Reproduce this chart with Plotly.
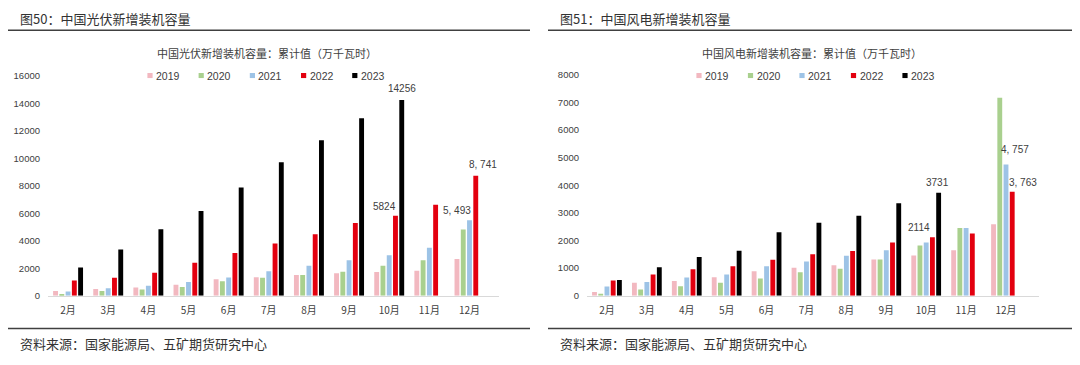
import plotly.graph_objects as go

months = ["2月", "3月", "4月", "5月", "6月", "7月", "8月", "9月", "10月", "11月", "12月"]
years = ["2019", "2020", "2021", "2022", "2023"]

# 中国光伏新增装机容量：累计值（万千瓦时）
pv_2019 = [350, 490, 590, 800, 1200, 1340, 1500, 1630, 1720, 1810, 2680]
pv_2020 = [100, 350, 450, 640, 1060, 1310, 1500, 1740, 2190, 2590, 4820]
pv_2021 = [300, 540, 730, 990, 1320, 1790, 2190, 2590, 2950, 3490, 5493]
pv_2022 = [1100, 1300, 1670, 2400, 3110, 3800, 4470, 5300, 5824, 6620, 8741]
pv_2023 = [2060, 3370, 4850, 6170, 7890, 9730, 11330, 12930, 14256, None, None]

# 中国风电新增装机容量：累计值（万千瓦时）
wind_2019 = [130, 470, 530, 670, 890, 1010, 1100, 1310, 1460, 1650, 2590]
wind_2020 = [70, 220, 340, 470, 620, 850, 980, 1310, 1820, 2450, 7167]
wind_2021 = [330, 500, 660, 770, 1070, 1240, 1450, 1650, 1930, 2450, 4757]
wind_2022 = [550, 770, 960, 1070, 1300, 1500, 1620, 1930, 2114, 2250, 3763]
wind_2023 = [570, 1030, 1400, 1630, 2300, 2640, 2900, 3350, 3731, None, None]

colors = ["#F2B8C0", "#A9D08E", "#9DC3E6", "#E3000F", "#000000"]

pv_series = [pv_2019, pv_2020, pv_2021, pv_2022, pv_2023]
wind_series = [wind_2019, wind_2020, wind_2021, wind_2022, wind_2023]

# labelled points: (month, year index, text)
pv_labels = [("10月", 3, "5824"), ("10月", 4, "14256"), ("12月", 2, "5, 493"), ("12月", 3, "8, 741")]
wind_labels = [("10月", 3, "2114"), ("10月", 4, "3731"), ("12月", 2, "4, 757"), ("12月", 3, "3, 763")]
pv_label_shift = [(-4.5, 9.5), (13, 11.7), (-12.5, 10), (13.5, 11)]
wind_label_shift = [(-7.6, 10), (11.7, 10.7), (9, 14.7), (17, 9.7)]

CJK = "Noto Sans CJK SC, Liberation Sans, sans-serif"
NUM = "Liberation Sans Narrow, Liberation Sans, Arial, sans-serif"

fig = go.Figure()
for i, y in enumerate(years):
    fig.add_trace(go.Bar(x=months, y=pv_series[i], name=y, marker=dict(color=colors[i], line=dict(width=0)),
                         xaxis="x", yaxis="y", showlegend=False))
for i, y in enumerate(years):
    fig.add_trace(go.Bar(x=months, y=wind_series[i], name=y, marker=dict(color=colors[i], line=dict(width=0)),
                         xaxis="x2", yaxis="y2", showlegend=False))

W, H = 1080, 365


def px(x):
    return x / W


def py(y):
    return (H - y) / H


annotations = []
shapes = []

# data labels
for (m, yi, txt), (dx, dy) in zip(pv_labels, pv_label_shift):
    val = pv_series[yi][months.index(m)]
    annotations.append(dict(x=m, y=val, xref="x", yref="y", text=txt, showarrow=False,
                            xshift=dx, yshift=dy, yanchor="middle",
                            font=dict(family=NUM, size=10, color="#404040")))
for (m, yi, txt), (dx, dy) in zip(wind_labels, wind_label_shift):
    val = wind_series[yi][months.index(m)]
    annotations.append(dict(x=m, y=val, xref="x2", yref="y2", text=txt, showarrow=False,
                            xshift=dx, yshift=dy, yanchor="middle",
                            font=dict(family=NUM, size=10, color="#404040")))

panels = [
    dict(fig_title="图50：中国光伏新增装机容量", chart_title="中国光伏新增装机容量：累计值（万千瓦时）",
         x0=8, x1=530, tx=18, ctx=267, leg0=150, legstep=51.2),
    dict(fig_title="图51：中国风电新增装机容量", chart_title="中国风电新增装机容量：累计值（万千瓦时）",
         x0=548, x1=1072, tx=558, ctx=812, leg0=699, legstep=51.5),
]

for p in panels:
    annotations.append(dict(x=px(p["tx"]), y=py(13), xref="paper", yref="paper", xanchor="left", yanchor="middle",
                            text=p["fig_title"], showarrow=False,
                            font=dict(family=CJK, size=13, color="#333333")))
    annotations.append(dict(x=px(p["ctx"]), y=py(48), xref="paper", yref="paper", xanchor="center", yanchor="middle",
                            text=p["chart_title"], showarrow=False,
                            font=dict(family=CJK, size=11, color="#404040")))
    annotations.append(dict(x=px(p["tx"]), y=py(347.5), xref="paper", yref="paper", xanchor="left", yanchor="middle",
                            text="资料来源：国家能源局、五矿期货研究中心", showarrow=False,
                            font=dict(family=CJK, size=13, color="#333333")))
    shapes.append(dict(type="line", xref="paper", yref="paper", x0=px(p["x0"]), x1=px(p["x1"]),
                       y0=py(25), y1=py(25), line=dict(color="#404040", width=1.5)))
    shapes.append(dict(type="line", xref="paper", yref="paper", x0=px(p["x0"]), x1=px(p["x1"]),
                       y0=py(332.5), y1=py(332.5), line=dict(color="#404040", width=1.5)))
    # legend
    for i, y in enumerate(years):
        cx = p["leg0"] + i * p["legstep"]
        shapes.append(dict(type="rect", xref="paper", yref="paper",
                           x0=px(cx - 2.6), x1=px(cx + 2.6), y0=py(71.7 + 2.6), y1=py(71.7 - 2.6),
                           fillcolor=colors[i], line=dict(width=0)))
        annotations.append(dict(x=px(cx + 4), y=py(71.7), xref="paper", yref="paper", xanchor="left",
                                yanchor="middle", text=y, showarrow=False,
                                font=dict(family=NUM, size=10.5, color="#404040")))

xcommon = dict(type="category", categoryorder="array", categoryarray=months, showline=True,
               linecolor="#D9D9D9", linewidth=1, ticks="", showgrid=False, zeroline=False,
               tickfont=dict(family=CJK, size=10, color="#404040"), ticklabelstandoff=5, fixedrange=True)
ycommon = dict(showgrid=False, zeroline=False, showline=False, ticks="", tickformat="d",
               tickfont=dict(family=NUM, size=9.5, color="#404040"), ticklabelstandoff=7, fixedrange=True)

fig.update_layout(
    width=W, height=H, autosize=False,
    margin=dict(l=0, r=0, t=0, b=0),
    paper_bgcolor="white", plot_bgcolor="white",
    barmode="group", bargap=0.22, bargroupgap=0.22,
    showlegend=False,
    xaxis=dict(domain=[px(48), px(499)], anchor="y", **xcommon),
    yaxis=dict(domain=[py(298.7), py(72.3)], range=[0, 16000], dtick=2000, anchor="x", **ycommon),
    xaxis2=dict(domain=[px(587), px(1039)], anchor="y2", **xcommon),
    yaxis2=dict(domain=[py(298.7), py(71)], range=[0, 8000], dtick=1000, anchor="x2", **ycommon),
    annotations=annotations,
    shapes=shapes,
)

fig.write_html("out.html", config={"displayModeBar": False},
               post_script="document.body.style.margin='0';document.body.style.overflow='hidden';")
